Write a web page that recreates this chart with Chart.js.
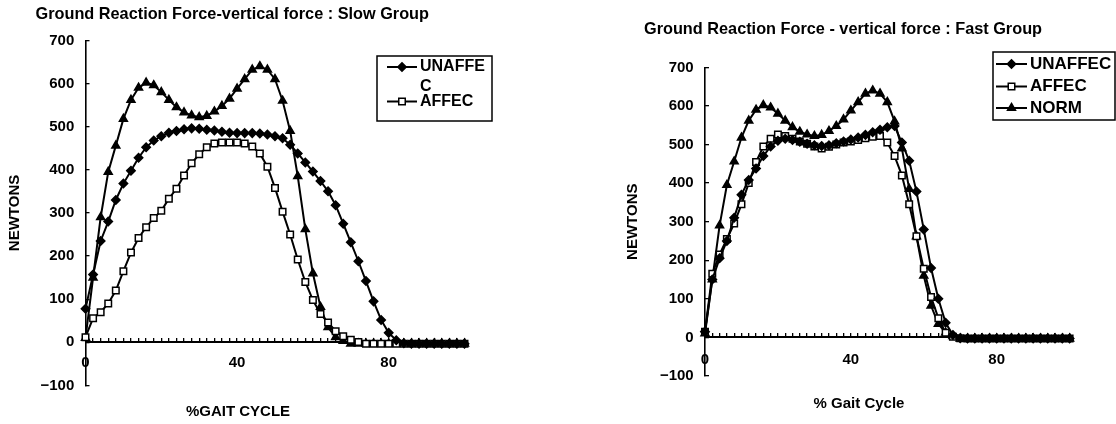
<!DOCTYPE html>
<html><head><meta charset="utf-8">
<script src="https://cdn.jsdelivr.net/npm/chart.js@4.4.1/dist/chart.umd.min.js"></script>
<style>
html,body{margin:0;padding:0;background:#fff;}
#wrap{position:relative;width:1116px;height:424px;overflow:hidden;background:#fff;}
canvas{position:absolute;top:0;}
#slow{left:0;}
#fast{left:560px;}
</style></head><body>
<div id="wrap"><canvas id="slow" width="560" height="424"></canvas><canvas id="fast" width="556" height="424"></canvas></div>
<script>
// ---- data ----
const gaitPct = [0,2,4,6,8,10,12,14,16,18,20,22,24,26,28,30,32,34,36,38,40,42,44,46,48,50,52,54,56,58,60,62,64,66,68,70,72,74,76,78,80,82,84,86,88,90,92,94,96,98,100];
const seriesNames = ['UNAFFEC', 'AFFEC', 'NORM'];
const xTickLabels = [0, 40, 80];

const slowUnaffec = [78,157,235,280,330,368,398,428,452,468,478,486,490,494,496,495,493,491,488,486,485,485,485,484,482,478,473,458,438,417,396,374,350,318,275,232,188,142,95,52,22,5,-2,-3,-3,-3,-3,-3,-3,-3,-3];
const slowAffec   = [12,56,70,90,120,165,208,242,267,288,305,333,356,387,415,436,452,461,463,463,463,461,454,438,407,358,303,250,192,140,98,66,46,26,14,6,1,-3,-3,-3,-3,-3,-3,-3,-3,-3,-3,-3,-3,-3,-3];
const normForce   = [10,150,290,395,456,518,562,590,602,596,580,562,545,533,526,522,525,535,548,565,588,610,632,640,632,610,560,490,385,262,160,82,35,12,3,-3,-3,-3,-3,-3,-3,-3,-3,-3,-3,-3,-3,-3,-3,-3,-3];

const fastUnaffec = [15,150,205,250,310,370,408,438,470,495,510,515,512,507,502,498,496,498,503,508,513,518,525,532,538,545,548,505,458,378,280,180,100,38,6,-2,-3,-3,-3,-3,-3,-3,-3,-3,-3,-3,-3,-3,-3,-3,-3];
const fastAffec   = [15,165,215,255,295,345,400,455,495,515,526,522,515,508,502,495,490,494,500,505,508,512,516,520,522,505,470,420,345,262,178,105,50,12,2,-2,-3,-3,-3,-3,-3,-3,-3,-3,-3,-3,-3,-3,-3,-3,-3];

const slowLegendText = [['UNAFFE', 'C'], ['AFFEC']];
const fastLegendText = [['UNAFFEC'], ['AFFEC'], ['NORM']];

// ---- styling ----
const fontFam = "'Liberation Sans', Arial, Helvetica, sans-serif";
Chart.defaults.font.family = fontFam;
Chart.defaults.font.weight = 'bold';
Chart.defaults.color = '#000';

const markerStyles = ['rectRot', 'rect', 'triangle'];
const markerRadius = [4.2, 4.6, 4.6];
const markerFill = ['#000', '#fff', '#000'];

function drawMarker(ctx, style, x, y, r, fill, bw) {
  ctx.save();
  ctx.beginPath();
  if (style === 'rect') {
    const s = r * Math.SQRT1_2;
    ctx.rect(x - s, y - s, 2 * s, 2 * s);
  } else if (style === 'rectRot') {
    ctx.moveTo(x, y - r); ctx.lineTo(x + r, y); ctx.lineTo(x, y + r); ctx.lineTo(x - r, y); ctx.closePath();
  } else {
    let a = 0;
    ctx.moveTo(x + Math.sin(a) * r, y - Math.cos(a) * r);
    a += 2 * Math.PI / 3; ctx.lineTo(x + Math.sin(a) * r, y - Math.cos(a) * r);
    a += 2 * Math.PI / 3; ctx.lineTo(x + Math.sin(a) * r, y - Math.cos(a) * r);
    ctx.closePath();
  }
  ctx.fillStyle = fill; ctx.fill();
  ctx.lineWidth = bw; ctx.strokeStyle = '#000'; ctx.stroke();
  ctx.restore();
}

const boxLegend = {
  id: 'boxLegend',
  afterDraw(chart, args, o) {
    const ctx = chart.ctx;
    ctx.save();
    ctx.strokeStyle = '#000';
    ctx.lineWidth = 1.5;
    ctx.strokeRect(o.x, o.y, o.w, o.h);
    ctx.font = 'bold ' + o.fontSize + 'px ' + fontFam;
    ctx.fillStyle = '#000';
    ctx.textBaseline = 'middle';
    ctx.textAlign = 'left';
    o.rows.forEach((r, i) => {
      const ds = chart.data.datasets[r.dataset];
      ctx.strokeStyle = '#000';
      ctx.lineWidth = ds.borderWidth;
      ctx.beginPath(); ctx.moveTo(o.lineX0, r.y); ctx.lineTo(o.lineX1, r.y); ctx.stroke();
      drawMarker(ctx, ds.pointStyle, (o.lineX0 + o.lineX1) / 2, r.y, ds.pointRadius, ds.pointBackgroundColor, ds.pointBorderWidth);
      ctx.fillStyle = '#000';
      o.text[i].forEach((t, k) => ctx.fillText(t, o.textX, r.y + k * o.lineGap));
    });
    ctx.restore();
  }
};

const xTitleCenter = {
  id: 'xTitleCenter',
  afterLayout(chart, args, o) {
    const s = chart.scales.xt;
    if (!s || o.center == null) return;
    const half = (s.right - s.left) / 2;
    s.left = o.center - half;
    s.right = o.center + half;
  }
};

function makeChart(id, p) {
  const datasets = p.series.map((vals, i) => ({
    label: seriesNames[i],
    data: gaitPct.map((x, k) => ({x: x, y: vals[k]})),
    borderColor: '#000', borderWidth: 2,
    pointStyle: markerStyles[i], pointRadius: markerRadius[i],
    pointBackgroundColor: markerFill[i], pointBorderColor: '#000', pointBorderWidth: 1.5,
    tension: 0, clip: false, fill: false
  }));
  return new Chart(document.getElementById(id), {
    type: 'line',
    data: {datasets: datasets},
    options: {
      responsive: false, animation: false, devicePixelRatio: 1,
      layout: {padding: p.padding},
      plugins: {
        legend: {display: false},
        tooltip: {enabled: false},
        title: {display: true, text: p.title, font: {size: 16.3, weight: 'bold'}, color: '#000', padding: p.titlePad},
        boxLegend: p.legend,
        xTitleCenter: {center: p.xTitleCenter}
      },
      scales: {
        x: {
          type: 'linear', position: {y: 0}, min: 0, max: 100,
          grid: {display: true, drawOnChartArea: false, drawTicks: true, tickLength: -5, color: '#000', lineWidth: 1.3},
          border: {display: true, color: '#000', width: 2},
          ticks: {stepSize: 2, autoSkip: false, maxRotation: 0, padding: p.xTickPad, font: {size: 15, weight: 'bold'}, color: '#000',
            callback: v => xTickLabels.includes(v) ? String(v) : ''}
        },
        xt: {
          type: 'linear', axis: 'x', position: 'bottom', min: 0, max: 100,
          grid: {display: false}, border: {display: false}, ticks: {display: false},
          title: {display: true, text: p.xTitle, font: {size: 15, weight: 'bold'}, color: '#000', padding: {top: 0, bottom: p.xTitleBottom}},
          afterFit: s => { s.height = p.xAxisHeight; }
        },
        y: {
          type: 'linear', position: 'left', min: -100, max: 700,
          grid: {display: true, drawOnChartArea: false, drawTicks: true, tickLength: -4, color: '#000', lineWidth: 1.3},
          border: {display: true, color: '#000', width: 1.6},
          ticks: {stepSize: 100, padding: p.yTickPad, font: {size: 15, weight: 'bold'}, color: '#000',
            callback: v => v < 0 ? '\u2212' + Math.abs(v) : String(v)},
          title: {display: true, text: 'NEWTONS', font: {size: 15, weight: 'bold'}, color: '#000', padding: {top: p.yTitlePad, bottom: 0}},
          afterFit: s => { s.width = p.yAxisWidth; }
        }
      }
    },
    plugins: [boxLegend, xTitleCenter]
  });
}

makeChart('slow', {
  series: [slowUnaffec, slowAffec, normForce],
  title: 'Ground Reaction Force-vertical force : Slow Group',
  xTitle: '%GAIT CYCLE',
  padding: {left: 0, right: 95.5, top: 0, bottom: 0},
  titlePad: {top: 4.4, bottom: 16.4},
  yAxisWidth: 85.5, yTitlePad: 6, yTickPad: 15.2, xTickPad: 16.9,
  xAxisHeight: 38.5, xTitleBottom: 3, xTitleCenter: 238,
  legend: {x: 377, y: 56, w: 115, h: 65, lineX0: 387, lineX1: 417, textX: 420, fontSize: 16, lineGap: 19.5,
    rows: [{dataset: 0, y: 67}, {dataset: 1, y: 101.5}], text: slowLegendText}
});

makeChart('fast', {
  series: [fastUnaffec, fastAffec, normForce],
  title: 'Ground Reaction Force - vertical force : Fast Group',
  xTitle: '% Gait Cycle',
  padding: {left: 56.4, right: 46.4, top: 0, bottom: 0},
  titlePad: {top: 19.7, bottom: 28.1},
  yAxisWidth: 88.6, yTitlePad: 7.6, yTickPad: 15.3, xTickPad: 18.5,
  xAxisHeight: 48, xTitleBottom: 11.3, xTitleCenter: 299,
  legend: {x: 433, y: 52, w: 122, h: 68, lineX0: 436, lineX1: 467, textX: 470, fontSize: 17, lineGap: 0,
    rows: [{dataset: 0, y: 64}, {dataset: 1, y: 86.5}, {dataset: 2, y: 108}], text: fastLegendText}
});
</script>
</body></html>
